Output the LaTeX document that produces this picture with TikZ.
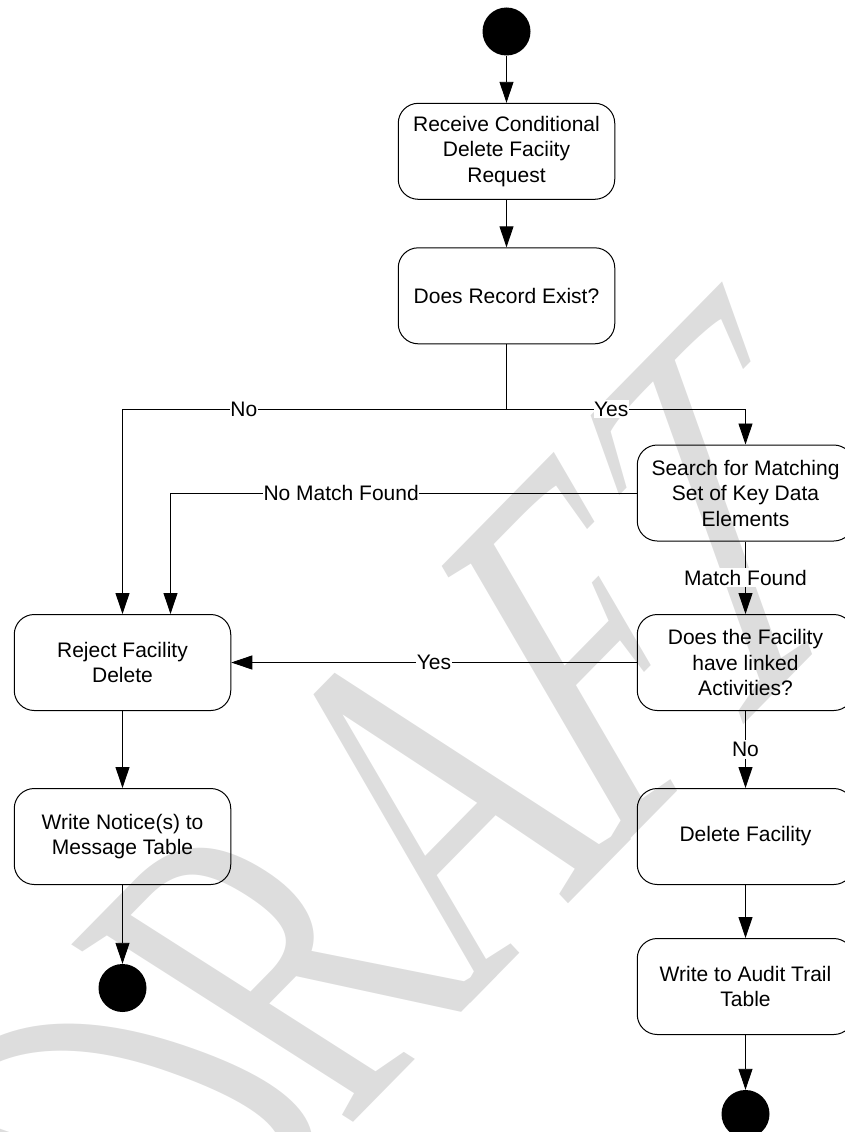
\documentclass[tikz,border=0pt]{standalone}
\usepackage{fontspec}
\setmainfont{Liberation Sans}
\newfontfamily\wmfont{Liberation Serif}
\usetikzlibrary{arrows.meta}
\definecolor{wmgray}{RGB}{221,221,221}
\begin{document}
\begin{tikzpicture}[x=1pt,y=-1pt,
  every node/.style={font=\fontsize{21}{25.5}\selectfont},
  activity/.style={draw, line width=1pt, rounded corners=20pt,
    minimum width=216.5pt, minimum height=96pt, align=center, inner sep=2pt},
  startstate/.style={circle, fill=black, minimum size=48pt, inner sep=0pt},
  endstate/.style={circle, fill=black, minimum size=48pt, inner sep=0pt},
  flow/.style={line width=0.9pt, -{Triangle[length=21pt,width=14pt]}},
  plain/.style={line width=0.9pt},
  guard/.style={fill=white, inner xsep=0.5pt, inner ysep=2pt},
  wmglyph/.style={text=wmgray, inner sep=0pt, transform shape, anchor=base west,
    font={\wmfont\fontsize{497}{497}\selectfont}},
]
\useasboundingbox (0,0) rectangle (844,1132);

% watermark: each letter set with its own slant so the word recedes in perspective
\begin{scope}[cm={0.4592,0.4673,-1.0387,0.3698,(209.37pt,-1268.49pt)}]
  \node[wmglyph] (wmD) at (0pt,0pt) {D};
\end{scope}
\begin{scope}[cm={0.4592,0.4673,-0.8617,0.5498,(344.95pt,-1130.51pt)}]
  \node[wmglyph] (wmR) at (0pt,0pt) {R};
\end{scope}
\begin{scope}[cm={0.4592,0.4673,-0.6849,0.7298,(467.98pt,-1005.31pt)}]
  \node[wmglyph] (wmA) at (0pt,0pt) {A};
\end{scope}
\begin{scope}[cm={0.4592,0.4673,-0.5222,0.8954,(605.89pt,-864.96pt)}]
  \node[wmglyph] (wmF) at (0pt,0pt) {F};
\end{scope}
\begin{scope}[cm={0.4592,0.4673,-0.3735,1.0467,(708.27pt,-760.77pt)}]
  \node[wmglyph] (wmT) at (0pt,0pt) {T};
\end{scope}

% activities
\node[startstate] (start) at (506.5,31.5) {};
\node[activity] (recv)   at (506.5,151.3) {Receive Conditional\\Delete Faciity\\Request};
\node[activity] (exist)  at (506.5,295.8) {Does Record Exist?};
\node[activity] (search) at (745.5,493)   {Search for Matching\\Set of Key Data\\Elements};
\node[activity] (linked) at (745.5,662.5) {Does the Facility\\have linked\\Activities?};
\node[activity] (reject) at (122.5,662.5) {Reject Facility\\Delete};
\node[activity] (notice) at (122.5,836.5) {Write Notice(s) to\\Message Table};
\node[activity] (delete) at (745.5,836.5) {Delete Facility};
\node[activity] (audit)  at (745.5,986.5) {Write to Audit Trail\\Table};
\node[endstate] (endL) at (122.5,988) {};
\node[endstate] (endR) at (745.5,1114) {};

\coordinate (split) at (506.5,409);

% transitions
\draw[flow] (start) -- (recv);
\draw[flow] (recv) -- (exist);
\draw[plain] (exist) -- (split);
\draw[flow] (split) -| node[guard, pos=0.342] {No} (reject);
\draw[flow] (split) -| node[guard, pos=0.219] {Yes} (search);
\draw[flow] (search.west) -| node[guard, pos=0.317] {No Match Found} ([xshift=48pt]reject.north);
\draw[flow] (search) -- node[guard] {Match Found} (linked);
\draw[flow] (linked) -- node[guard] {Yes} (reject);
\draw[flow] (linked) -- node[guard] {No} (delete);
\draw[flow] (reject) -- (notice);
\draw[flow] (notice) -- (endL);
\draw[flow] (delete) -- (audit);
\draw[flow] (audit) -- (endR);
\end{tikzpicture}
\end{document}
